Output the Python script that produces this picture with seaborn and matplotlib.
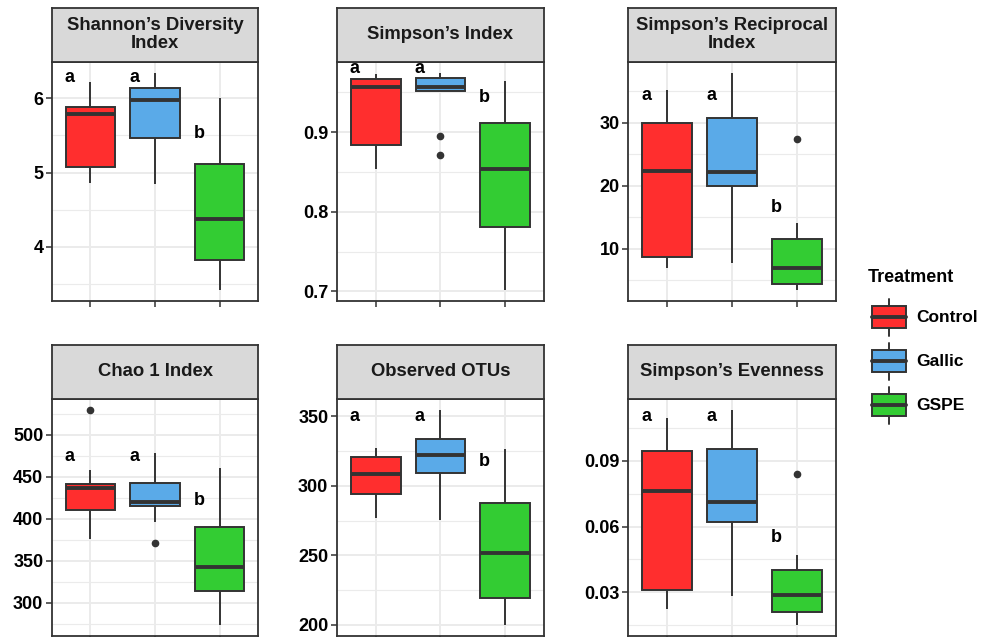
import numpy as np
import pandas as pd
import matplotlib
matplotlib.use('Agg')
import matplotlib.pyplot as plt
from matplotlib.patches import Rectangle
import seaborn as sns

sns.set_style('white')
plt.rcParams['font.family'] = ['Liberation Sans', 'DejaVu Sans']

treatments = ['Control', 'Gallic', 'GSPE']
colors = ['#FF2E2E', '#5AAAE8', '#33CC33']

shannon = [[4.86, 4.97, 5.08, 5.45, 5.79, 5.83, 5.875, 6.05, 6.22],
           [4.84, 5.2, 5.47, 5.7, 5.97, 6.05, 6.13, 6.25, 6.34],
           [3.42, 3.6, 3.83, 4.1, 4.37, 4.75, 5.12, 5.5, 6.0]]
simpson = [[0.854, 0.87, 0.884, 0.93, 0.956, 0.962, 0.967, 0.970, 0.973],
           [0.871, 0.895, 0.952, 0.954, 0.956, 0.962, 0.968, 0.971, 0.974],
           [0.702, 0.74, 0.781, 0.82, 0.854, 0.885, 0.912, 0.94, 0.964]]
reciprocal = [[6.9, 7.8, 8.66, 15.0, 22.3, 26.0, 29.94, 32.5, 35.17],
              [7.8, 14.0, 20.0, 21.0, 22.1, 26.0, 30.7, 34.0, 37.9],
              [3.44, 4.0, 4.45, 5.6, 6.9, 9.2, 11.5, 14.1, 27.4]]
chao = [[375.6, 395, 409.9, 425, 436.7, 439, 441.5, 458.5, 529.6],
        [370.9, 396.4, 415.4, 418, 420.1, 430, 442.7, 460, 478.7],
        [274.1, 295, 314.7, 330, 343.1, 365, 389.8, 425, 460.9]]
otus = [[276.7, 285, 294, 301, 308.5, 315, 321, 325, 327.4],
        [275.3, 292, 309.3, 316, 322.4, 328, 333.9, 345, 354.7],
        [200, 210, 219.2, 235, 251.6, 270, 287.7, 305, 326.7]]
evenness = [[0.0225, 0.027, 0.0311, 0.055, 0.076, 0.085, 0.0946, 0.102, 0.1095],
            [0.0282, 0.045, 0.0619, 0.066, 0.0712, 0.083, 0.0952, 0.105, 0.1133],
            [0.0152, 0.018, 0.0208, 0.025, 0.0289, 0.035, 0.040, 0.0471, 0.0838]]

titles = ['Shannon\u2019s Diversity\nIndex', 'Simpson\u2019s Index', 'Simpson\u2019s Reciprocal\nIndex',
          'Chao 1 Index', 'Observed OTUs', 'Simpson\u2019s Evenness']
panel_data = [shannon, simpson, reciprocal, chao, otus, evenness]
letters = ['a', 'a', 'b']
letter_y = [[6.28, 6.28, 5.52], [0.980, 0.980, 0.944], [34.3, 34.3, 16.5],
            [474.3, 474.3, 422.2], [349.7, 349.7, 317.4], [0.1102, 0.1102, 0.0548]]
yticks = [[4, 5, 6], [0.7, 0.8, 0.9], [10, 20, 30],
          [300, 350, 400, 450, 500], [200, 250, 300, 350], [0.03, 0.06, 0.09]]
ylims = [(3.274, 6.486), (0.688, 0.988), (1.72, 39.62),
         (261.3, 542.4), (192.3, 362.4), (0.0103, 0.1182)]

W, H = 986, 637
col_x = [(51.7, 258.3), (336.7, 544.3), (628, 836)]
row_y = [(62, 301), (399, 635.5)]
strip_h = 54.5
dark = '#333333'

fig = plt.figure(figsize=(W / 100, H / 100), dpi=100)

for k, vals in enumerate(panel_data):
    r, c = divmod(k, 3)
    x0, x1 = col_x[c]
    top, bot = row_y[r]
    ax = fig.add_axes([x0 / W, (H - bot) / H, (x1 - x0) / W, (bot - top) / H])
    df = pd.DataFrame({'Treatment': np.repeat(treatments, len(vals[0])),
                       'value': np.concatenate(vals)})
    sns.boxplot(data=df, x='Treatment', y='value', hue='Treatment', order=treatments,
                hue_order=treatments, palette=colors, saturation=1, width=0.77,
                linewidth=1.4, linecolor=dark, showcaps=False, legend=False, ax=ax,
                medianprops=dict(linewidth=2.8, color=dark),
                flierprops=dict(marker='o', markerfacecolor=dark, markeredgecolor=dark,
                                markersize=4.5))
    for i, (lab, ly) in enumerate(zip(letters, letter_y[k])):
        ax.text(i - 0.32, ly, lab, ha='center', va='center', fontsize=13,
                fontweight='bold', color='black', clip_on=True)
    ax.set_xlim(-0.6, 2.6)
    ax.set_yticks(yticks[k])
    step = yticks[k][1] - yticks[k][0]
    ax.set_yticks(np.arange(yticks[k][0] - step * 1.5, yticks[k][-1] + step, step), minor=True)
    ax.set_ylim(*ylims[k])
    ax.set_xticks([0, 1, 2])
    ax.set_xticklabels([])
    ax.set_xlabel('')
    ax.set_ylabel('')
    ax.set_axisbelow(True)
    ax.grid(True, which='major', color='#EBEBEB', lw=1.4)
    ax.grid(True, which='minor', axis='y', color='#EBEBEB', lw=0.8)
    ax.tick_params(which='major', length=4, width=1.1, color=dark, labelsize=13,
                   labelcolor='black', pad=2, left=True, bottom=True)
    ax.tick_params(which='minor', length=0)
    for lbl in ax.get_yticklabels():
        lbl.set_fontweight('bold')
    for sp in ax.spines.values():
        sp.set_color(dark)
        sp.set_linewidth(1.3)

    sax = fig.add_axes([x0 / W, (H - top) / H, (x1 - x0) / W, strip_h / H])
    sax.set_facecolor('#D9D9D9')
    sax.set_xticks([])
    sax.set_yticks([])
    for sp in sax.spines.values():
        sp.set_color(dark)
        sp.set_linewidth(1.3)
    sax.text(0.5, 0.5, titles[k], ha='center', va='center', fontsize=13.3,
             fontweight='bold', color='#1A1A1A', linespacing=1.05,
             transform=sax.transAxes)

# legend (ggplot style boxplot keys)
lax = fig.add_axes([0, 0, 1, 1])
lax.set_xlim(0, W)
lax.set_ylim(H, 0)
lax.axis('off')
lax.text(868, 277.5, 'Treatment', ha='left', va='center', fontsize=13,
         fontweight='bold', color='black')
for i, (name, col) in enumerate(zip(treatments, colors)):
    cy = 317 + i * 44
    lax.plot([889, 889], [cy - 18.5, cy - 11], color=dark, lw=1.4)
    lax.plot([889, 889], [cy + 11, cy + 18.5], color=dark, lw=1.4)
    lax.add_patch(Rectangle((872, cy - 11), 34, 22, facecolor=col, edgecolor=dark, lw=1.4))
    lax.plot([872, 906], [cy, cy], color=dark, lw=2.8)
    lax.text(916, cy, name, ha='left', va='center', fontsize=12.5,
             fontweight='bold', color='black')

fig.savefig('out.png', dpi=100)
